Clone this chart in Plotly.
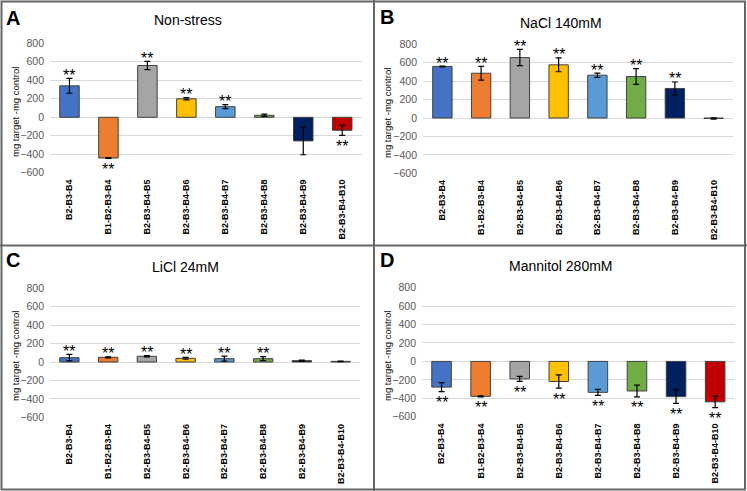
import plotly.graph_objects as go

categories = ["B2-B3-B4", "B1-B2-B3-B4", "B2-B3-B4-B5", "B2-B3-B4-B6",
              "B2-B3-B4-B7", "B2-B3-B4-B8", "B2-B3-B4-B9", "B2-B3-B4-B10"]
bar_colors = ["#4472C4", "#ED7D31", "#A5A5A5", "#FFC000",
              "#5B9BD5", "#70AD47", "#002060", "#C00000"]

titles = ["Non-stress", "NaCl 140mM", "LiCl 24mM", "Mannitol 280mM"]
letters = ["A", "B", "C", "D"]

nonstress_vals = [340, -440, 560, 200, 115, 22, -255, -140]
nonstress_err = [80, 5, 45, 12, 22, 12, 150, 55]
nonstress_sig = [1, 1, 1, 1, 1, 0, 0, 1]

nacl_vals = [560, 486, 656, 577, 465, 450, 321, -5]
nacl_err = [4, 74, 88, 75, 23, 85, 70, 8]
nacl_sig = [1, 1, 1, 1, 1, 1, 1, 0]

licl_vals = [47, 51, 62, 40, 36, 36, 15, 7]
licl_err = [35, 5, 7, 10, 27, 22, 5, 3]
licl_sig = [1, 1, 1, 1, 1, 1, 0, 0]

mannitol_vals = [-279, -379, -189, -218, -336, -321, -382, -439]
mannitol_err = [48, 6, 27, 72, 32, 64, 73, 62]
mannitol_sig = [1, 1, 1, 1, 1, 1, 1, 1]

y_ticks = [-600, -400, -200, 0, 200, 400, 600, 800]
y_title = "mg target -mg control"

panels = [
    (nonstress_vals, nonstress_err, nonstress_sig),
    (nacl_vals, nacl_err, nacl_sig),
    (licl_vals, licl_err, licl_sig),
    (mannitol_vals, mannitol_err, mannitol_sig),
]

W, H = 747, 491
# plot areas in pixels: (x0, x1, ytop, ybottom)
areas = [
    (50, 361.7, 43.3, 172.8),
    (423, 733, 44.3, 173.3),
    (50, 360, 288.3, 417.3),
    (422, 734.7, 287.7, 416.7),
]
title_pos = [(187.7, 20), (560.7, 23), (185, 266.7), (560.7, 265.7)]
letter_pos = [(4, 18), (378, 17), (4, 260), (378, 260)]
ytitle_pos = [(15, 112), (387, 113), (15, 356), (387, 356)]

FONT = "Liberation Sans"
fig = go.Figure()
annotations = []

for i, (vals, errs, sig) in enumerate(panels):
    ax = "" if i == 0 else str(i + 1)
    x0, x1, yt, yb = areas[i]
    fig.add_trace(go.Bar(
        x=categories, y=vals,
        marker=dict(color=bar_colors, line=dict(color="#404040", width=1)),
        error_y=dict(type="data", array=errs, visible=True,
                     color="#000000", thickness=1.2, width=3),
        xaxis="x" + ax, yaxis="y" + ax, showlegend=False, hoverinfo="skip",
    ))
    fig.layout["xaxis" + ax] = dict(
        domain=[x0 / W, x1 / W], anchor="y" + ax,
        tickangle=-90, showgrid=False, zeroline=False, showline=False,
        tickfont=dict(family=FONT, size=9, color="#000000", weight="bold"),
        ticklabelstandoff=4, fixedrange=True, automargin=False,
    )
    fig.layout["yaxis" + ax] = dict(
        domain=[1 - yb / H, 1 - yt / H], anchor="x" + ax,
        range=[-600, 800], tickvals=y_ticks, fixedrange=True,
        showgrid=True, gridcolor="#D9D9D9", gridwidth=1,
        zeroline=False, showline=False, automargin=False,
        tickfont=dict(family=FONT, size=10.5, color="#595959"),
        ticklabelstandoff=5,
    )
    for c, v, e, s in zip(categories, vals, errs, sig):
        if not s:
            continue
        if v >= 0:
            yy, ys = v + e, 3
        else:
            yy, ys = v - e, -11
        annotations.append(dict(
            x=c, y=yy, xref="x" + ax, yref="y" + ax, text="**",
            showarrow=False, yanchor="middle", xanchor="center", yshift=ys,
            font=dict(family=FONT, size=16, color="#000000"),
        ))
    tx, ty = title_pos[i]
    annotations.append(dict(
        x=tx / W, y=1 - ty / H, xref="paper", yref="paper", text=titles[i],
        showarrow=False, xanchor="center", yanchor="middle",
        font=dict(family=FONT, size=14, color="#000000"),
    ))
    lx, ly = letter_pos[i]
    annotations.append(dict(
        x=lx / W, y=1 - ly / H, xref="paper", yref="paper",
        text="<b>" + letters[i] + "</b>",
        showarrow=False, xanchor="left", yanchor="middle",
        font=dict(family=FONT, size=20, color="#000000"),
    ))
    qx, qy = ytitle_pos[i]
    annotations.append(dict(
        x=qx / W, y=1 - qy / H, xref="paper", yref="paper", text=y_title,
        showarrow=False, xanchor="center", yanchor="middle", textangle=-90,
        font=dict(family=FONT, size=9.5, color="#000000"),
    ))

border = "#666666"
shapes = [
    dict(type="rect", xref="paper", yref="paper", x0=1.5 / W, x1=1 - 2 / W,
         y0=1.5 / H, y1=1 - 1.5 / H, line=dict(color=border, width=2)),
    dict(type="line", xref="paper", yref="paper", x0=374 / W, x1=374 / W,
         y0=0, y1=1, line=dict(color=border, width=2)),
    dict(type="line", xref="paper", yref="paper", x0=0, x1=1,
         y0=1 - 245.5 / H, y1=1 - 245.5 / H, line=dict(color=border, width=2)),
]

fig.update_layout(
    width=W, height=H, margin=dict(l=0, r=0, t=0, b=0, autoexpand=False),
    paper_bgcolor="#FFFFFF", plot_bgcolor="#FFFFFF",
    bargap=0.5, annotations=annotations, shapes=shapes,
    font=dict(family=FONT), hovermode=False,
)

fig.write_html("out.html", config={"displayModeBar": False},
               post_script="document.body.style.margin='0';document.body.style.padding='0';")
